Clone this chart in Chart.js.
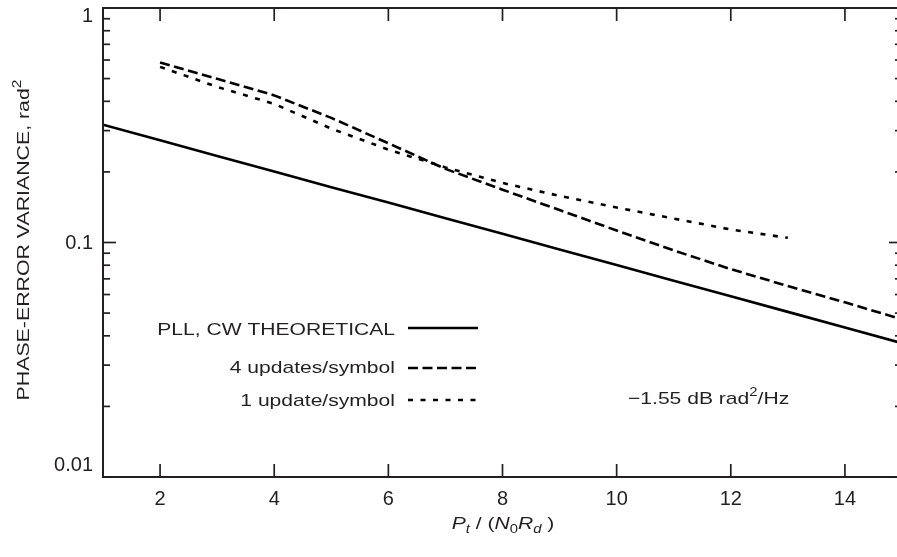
<!DOCTYPE html>
<html><head><meta charset="utf-8">
<style>html,body{margin:0;padding:0;overflow:hidden;background:#fff}#wrap{width:904px;height:557px}</style>
<script src="https://cdn.jsdelivr.net/npm/chart.js@4.4.1/dist/chart.umd.min.js"></script>
</head><body><div id="wrap"><canvas id="c" width="904" height="557"></canvas></div>
<script>
// ---- data ----
const xTheory = [1,2,3,4,5,6,7,8,9,10,11,12,13,14,15];
const pllTheory = [0.318,0.273,0.234,0.201,0.172,0.148,0.127,0.109,0.0934,0.0801,0.0687,0.0590,0.0506,0.0434,0.0372];
const xFour = [2,3,4,5,6,7,8,9,10,11,12,13,14,15];
const fourUpdates = [0.585,0.499,0.424,0.340,0.265,0.206,0.168,0.1375,0.1125,0.0925,0.077,0.0652,0.0556,0.047];
const xOne = [2,3,4,5,6,7,8,9,10,11,12,13];
const oneUpdate = [0.561,0.461,0.390,0.306,0.249,0.209,0.1795,0.158,0.141,0.1265,0.1136,0.1047];
const seriesLabels = ['PLL, CW THEORETICAL','4 updates/symbol','1 update/symbol'];
const xTickValues = [2,4,6,8,10,12,14];
const yMajorValues = [0.01,0.1,1];
const yMajorLabels = ['0.01','0.1','1'];
const yTitleText = 'PHASE-ERROR VARIANCE, rad';
const yTitleSup = '2';
const noteText = ['\u22121.55 dB rad','2','/Hz'];

const FONT = '"Liberation Sans", Arial, Helvetica, sans-serif';
const INK = '#231f20';
const SX = 1.24; // horizontal stretch of the reference lettering

function pts(xs, ys){ return xs.map((x,i)=>({x:x, y:ys[i]})); }

function richWidth(ctx, parts){
  let w=0;
  for(const p of parts){ ctx.font=(p.italic?'italic ':'')+p.size+'px '+FONT; w+=ctx.measureText(p.t).width; }
  return w*SX;
}
function drawRich(ctx, parts, x, y, align){
  const w = richWidth(ctx, parts);
  let cx = align==='right' ? x-w : align==='center' ? x-w/2 : x;
  ctx.save();
  ctx.fillStyle = INK;
  ctx.textAlign='left'; ctx.textBaseline='alphabetic';
  for(const p of parts){
    ctx.font=(p.italic?'italic ':'')+p.size+'px '+FONT;
    const pw = ctx.measureText(p.t).width;
    ctx.save(); ctx.translate(cx, y+(p.dy||0)); ctx.scale(SX,1); ctx.fillText(p.t,0,0); ctx.restore();
    cx += pw*SX;
  }
  ctx.restore();
}
function seg(ctx,x1,y1,x2,y2){ ctx.beginPath(); ctx.moveTo(x1,y1); ctx.lineTo(x2,y2); ctx.stroke(); }

const decor = {
  id:'decor',
  afterDraw(chart){
    const ctx=chart.ctx, a=chart.chartArea, xs=chart.scales.x, ys=chart.scales.y;
    ctx.save();
    ctx.setLineDash([]);
    ctx.strokeStyle=INK; ctx.fillStyle=INK;
    // frame
    ctx.lineWidth=2;
    seg(ctx,a.left,a.top,a.right,a.top);
    seg(ctx,a.left,a.bottom,a.right,a.bottom);
    seg(ctx,a.left,a.top-1,a.left,a.bottom+1);
    seg(ctx,a.right,a.top-1,a.right,a.bottom+1);
    // ticks (inward)
    ctx.lineWidth=1.7;
    for(const v of xTickValues){
      const px=xs.getPixelForValue(v);
      seg(ctx,px,a.bottom,px,a.bottom-13);
      seg(ctx,px,a.top,px,a.top+13);
    }
    for(const dec of [0.01,0.1]){
      for(let m=1;m<=9;m++){
        const py=ys.getPixelForValue(m*dec);
        const len = m===1?13:7;
        seg(ctx,a.left,py,a.left+len,py);
        seg(ctx,a.right,py,a.right-len,py);
      }
    }
    // y tick labels
    ctx.font='20px '+FONT; ctx.textAlign='right'; ctx.textBaseline='middle';
    const yOff=[-13,0,7];
    yMajorValues.forEach((v,i)=>{ ctx.fillText(yMajorLabels[i], a.left-10, ys.getPixelForValue(v)+yOff[i]+1); });
    // legend
    const rowsText=[335,373,406], rowsLine=[328,368,400];
    chart.data.datasets.forEach((ds,i)=>{
      drawRich(ctx,[{t:ds.label,size:17}],395,rowsText[i],'right');
      ctx.save(); ctx.strokeStyle='#000'; ctx.lineWidth=ds.borderWidth; ctx.setLineDash(ds.borderDash||[]);
      seg(ctx,408,rowsLine[i],478,rowsLine[i]); ctx.restore();
    });
    // annotation
    drawRich(ctx,[{t:noteText[0],size:17},{t:noteText[1],size:12,dy:-8}, {t:noteText[2],size:17}],628,404,'left');
    // y title
    ctx.save(); ctx.translate(29,240); ctx.rotate(-Math.PI/2);
    drawRich(ctx,[{t:yTitleText,size:17.2},{t:yTitleSup,size:12.5,dy:-8}],0,0,'center');
    ctx.restore();
    // x title
    drawRich(ctx,[
      {t:'P',size:17,italic:true},{t:'t',size:12,italic:true,dy:4},{t:' / (',size:17},
      {t:'N',size:17,italic:true},{t:'0',size:12,dy:4},{t:'R',size:17,italic:true},
      {t:'d',size:12,italic:true,dy:4},{t:' )',size:17}],503,529,'center');
    ctx.restore();
  }
};

new Chart(document.getElementById('c'),{
  type:'line',
  data:{datasets:[
    {label:seriesLabels[0],data:pts(xTheory,pllTheory),borderColor:'#000',borderWidth:2.6,pointRadius:0,borderDash:[],fill:false},
    {label:seriesLabels[1],data:pts(xFour,fourUpdates),borderColor:'#000',borderWidth:2.6,pointRadius:0,borderDash:[10,4.5],fill:false},
    {label:seriesLabels[2],data:pts(xOne,oneUpdate),borderColor:'#000',borderWidth:2.6,pointRadius:0,borderDash:[5,7.5],fill:false}
  ]},
  options:{
    responsive:false,animation:false,devicePixelRatio:1,
    layout:{padding:{top:8,right:2,left:0,bottom:0}},
    plugins:{legend:{display:false},tooltip:{enabled:false}},
    scales:{
      x:{type:'linear',min:1,max:15,
        afterBuildTicks(s){ s.ticks = xTickValues.map(v=>({value:v})); },
        afterFit(s){ s.height=80; s.paddingLeft=0; s.paddingRight=0; },
        grid:{display:false,drawTicks:false},border:{display:false},
        ticks:{color:INK,font:{family:FONT,size:20},padding:10,maxRotation:0,autoSkip:false}},
      y:{type:'logarithmic',min:0.01,max:1,
        afterBuildTicks(s){ s.ticks = yMajorValues.map(v=>({value:v,major:true})); },
        afterFit(s){ s.width=103; s.paddingTop=0; s.paddingBottom=0; },
        grid:{display:false,drawTicks:false},border:{display:false},
        ticks:{display:false,color:INK,font:{family:FONT,size:20},padding:10,autoSkip:false,
          callback:(v,i)=>yMajorLabels[i]}}
    }
  },
  plugins:[decor]
});
</script></body></html>
